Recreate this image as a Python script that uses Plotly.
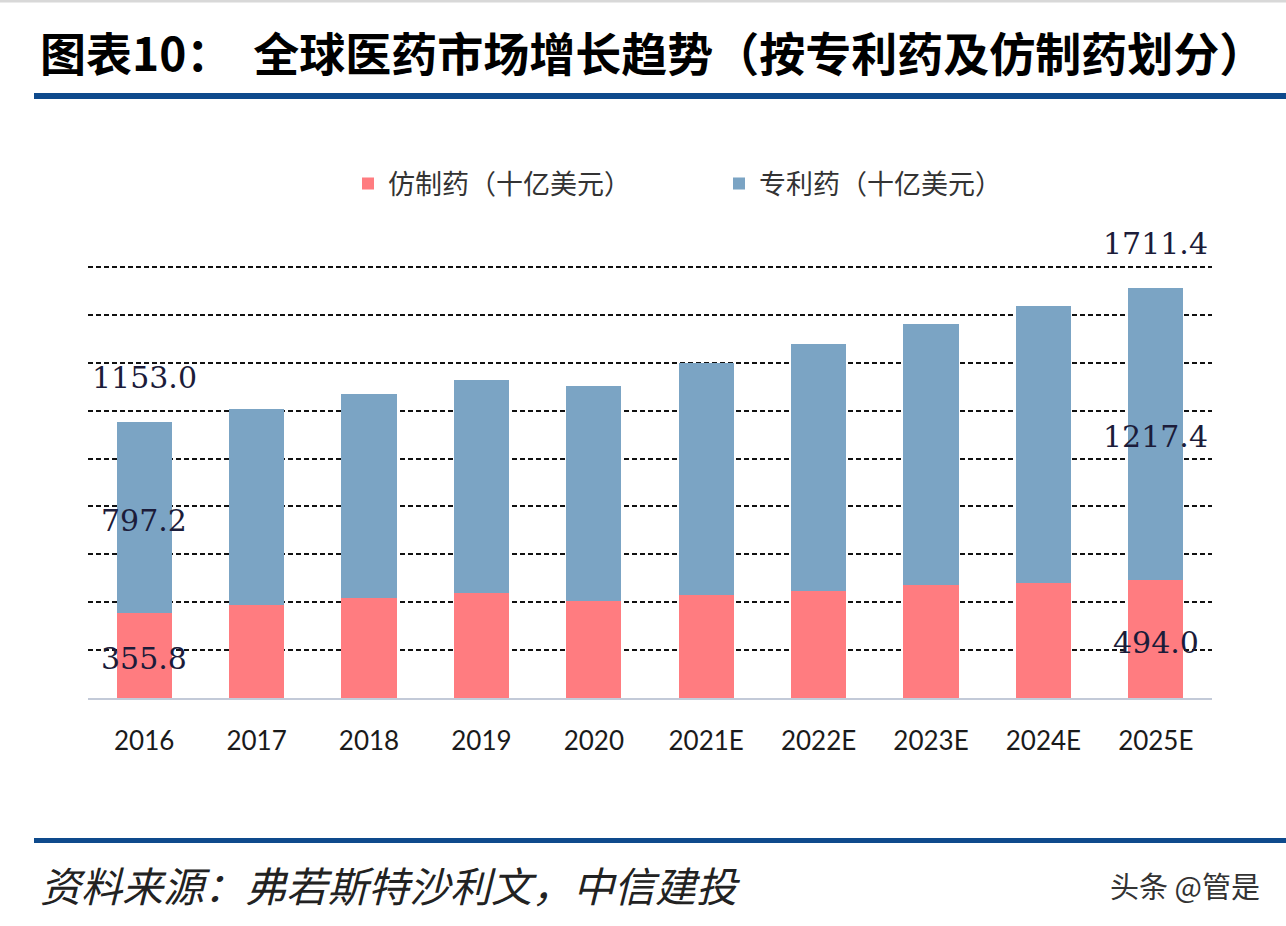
import plotly.graph_objects as go

W, H = 1286, 926

categories = ["2016", "2017", "2018", "2019", "2020", "2021E", "2022E", "2023E", "2024E", "2025E"]
generic = [355.8, 389, 420, 438, 406, 430, 447, 472, 480, 494.0]
patent = [797.2, 819, 848, 888, 895, 967, 1029, 1088, 1155, 1217.4]
grid_vals = [200, 400, 600, 800, 1000, 1200, 1400, 1600, 1800]
labelled = ["2016", "2025E"]

series_names = ["仿制药（十亿美元）", "专利药（十亿美元）"]
title_text = "图表10：  全球医药市场增长趋势（按专利药及仿制药划分）"
source_text = "资料来源：弗若斯特沙利文，中信建投"
watermark = "头条 @管是"

RED = "#FF7C80"
BLUE = "#7BA4C4"
NAVY = "#0E4A8C"

Y_MAX = 1810
PX_ZERO = 698.3
PX_PER_UNIT = (698.3 - 266.7) / 1800

def px_x(p):
    return p / W

def px_y(p):
    return 1 - p / H

fig = go.Figure()
fig.add_trace(go.Bar(x=categories, y=generic, name=series_names[0], marker=dict(color=RED, line=dict(width=0))))
fig.add_trace(go.Bar(x=categories, y=patent, name=series_names[1], marker=dict(color=BLUE, line=dict(width=0))))

label_font = dict(family="DejaVu Serif, Liberation Serif, serif", size=30, color="#1C1C3A")
annotations = []
for cat in labelled:
    i = categories.index(cat)
    g, p = generic[i], patent[i]
    tot = g + p
    annotations.append(dict(x=i, y=g / 2, text=f"{g:.1f}", showarrow=False, font=label_font, xref="x", yref="y", yshift=-3))
    annotations.append(dict(x=i, y=g + p / 2, text=f"{p:.1f}", showarrow=False, font=label_font, xref="x", yref="y", yshift=-3))
    annotations.append(dict(x=i, y=tot, text=f"{tot:.1f}", showarrow=False, font=label_font, xref="x", yref="y", yshift=44))

annotations.append(dict(x=px_x(38), y=px_y(51), xref="paper", yref="paper", xanchor="left", yanchor="middle",
                        text="<b>" + title_text + "</b>", showarrow=False,
                        font=dict(family="Noto Sans CJK SC", size=46, color="#000000")))
annotations.append(dict(x=px_x(38), y=px_y(884), xref="paper", yref="paper", xanchor="left", yanchor="middle",
                        text="<i>" + source_text + "</i>", showarrow=False,
                        font=dict(family="Noto Sans CJK SC", size=41, color="#222222")))
annotations.append(dict(x=px_x(1262), y=px_y(885), xref="paper", yref="paper", xanchor="right", yanchor="middle",
                        text=watermark, showarrow=False,
                        font=dict(family="Noto Sans CJK SC", size=29, color="#333333")))

shapes = [
    dict(type="line", xref="paper", yref="paper", x0=px_x(34), x1=1, y0=px_y(96), y1=px_y(96), line=dict(color=NAVY, width=6)),
    dict(type="line", xref="paper", yref="paper", x0=px_x(34), x1=1, y0=px_y(840.5), y1=px_y(840.5), line=dict(color=NAVY, width=5)),
    dict(type="line", xref="paper", yref="paper", x0=0, x1=1, y0=px_y(1), y1=px_y(1), line=dict(color="#D8D8D8", width=3)),
]

fig.update_layout(
    width=W, height=H,
    margin=dict(l=0, r=0, t=0, b=0),
    paper_bgcolor="white", plot_bgcolor="white",
    barmode="stack", bargap=0.51,
    annotations=annotations, shapes=shapes,
    showlegend=True,
    legend=dict(orientation="h", x=px_x(348), y=px_y(184), xanchor="left", yanchor="middle",
                font=dict(family="Noto Sans CJK SC", size=27, color="#333333"),
                entrywidth=326, entrywidthmode="pixels", traceorder="normal", bgcolor="rgba(0,0,0,0)"),
    xaxis=dict(type="category", range=[-0.5, len(categories) - 0.5], domain=[px_x(88), px_x(1212)],
               showline=True, linecolor="#C3CAD8", linewidth=1.5,
               ticks="", showgrid=False, ticklabelstandoff=19,
               tickfont=dict(family="Lato, Open Sans, sans-serif", size=26, color="#1A1A1A")),
    yaxis=dict(domain=[px_y(PX_ZERO), px_y(PX_ZERO - Y_MAX * PX_PER_UNIT)], range=[0, Y_MAX], tickvals=grid_vals,
               showticklabels=False, showgrid=True, gridcolor="#111111", gridwidth=1.5, griddash="5px,3px",
               zeroline=False, showline=False),
)

fig.write_html("out.html", config={"displayModeBar": False}, post_script="document.body.style.margin='0';")
